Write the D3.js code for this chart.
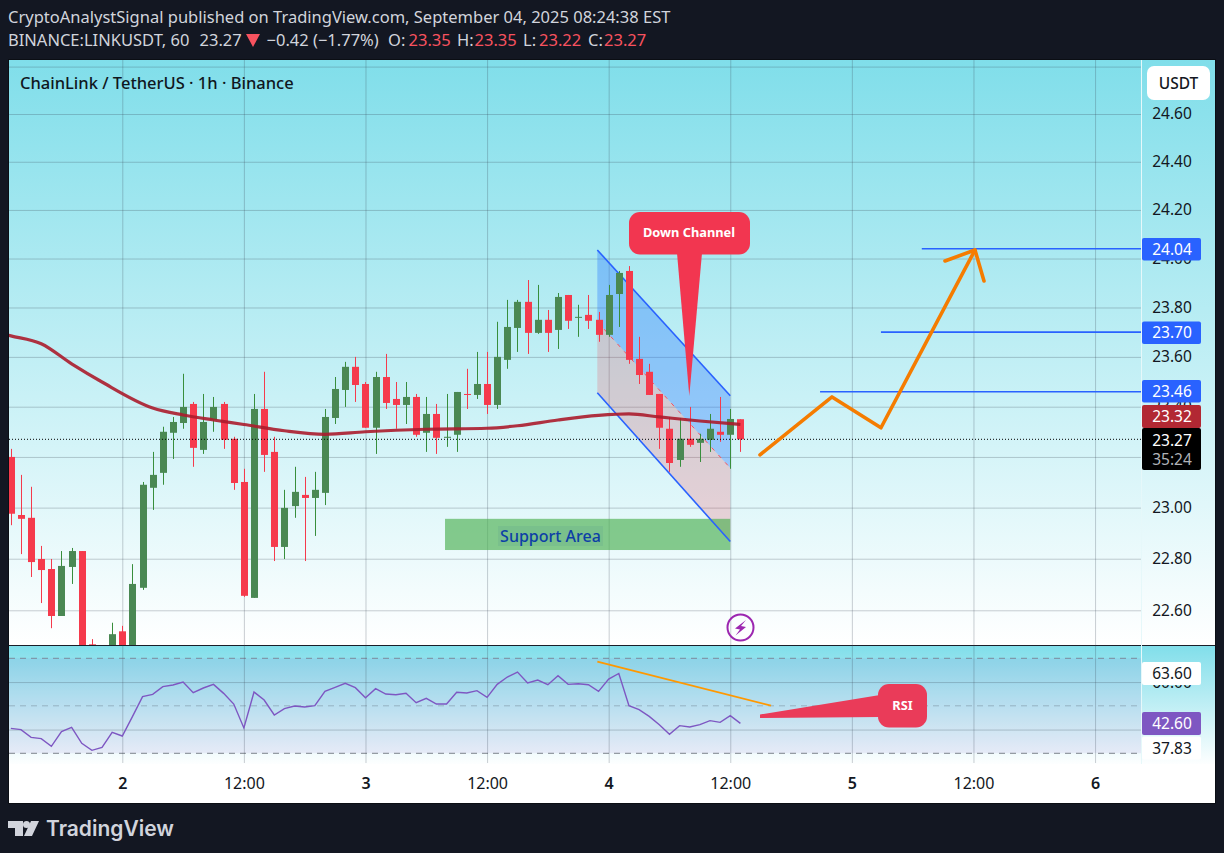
<!DOCTYPE html>
<html><head><meta charset="utf-8">
<script src="https://cdn.jsdelivr.net/npm/d3@7/dist/d3.min.js"></script>
<style>html,body{margin:0;padding:0;background:#131722;overflow:hidden}svg{display:block}text{font-family:"Noto Sans","Open Sans",sans-serif}</style>
</head><body><svg id="c" width="1224" height="853"></svg>
<script>
// ---- data ----
const opens=[23.200,22.971,22.960,22.799,22.760,22.578,22.768,22.830,22.469,22.38,22.43,22.519,22.44,22.687,23.078,23.137,23.296,23.335,23.411,23.228,23.347,23.411,23.272,23.101,22.648,23.391,23.220,22.846,23.006,23.050,23.038,23.058,23.355,23.467,23.560,23.491,23.316,23.519,23.431,23.407,23.439,23.296,23.371,23.276,23.288,23.451,23.447,23.491,23.407,23.588,23.717,23.823,23.697,23.750,23.709,23.851,23.758,23.770,23.750,23.689,23.855,23.949,23.592,23.540,23.451,23.312,23.188,23.272,23.256,23.268,23.300,23.288,23.35];
const highs=[23.232,23.129,23.082,22.850,22.799,22.830,22.842,22.830,22.489,22.44,22.552,22.540,22.779,23.101,23.220,23.320,23.359,23.532,23.419,23.451,23.439,23.419,23.280,23.153,23.451,23.540,23.280,23.070,23.161,23.121,23.141,23.391,23.519,23.580,23.600,23.499,23.540,23.612,23.499,23.499,23.451,23.439,23.411,23.451,23.459,23.552,23.620,23.620,23.742,23.831,23.831,23.912,23.892,23.790,23.859,23.851,23.811,23.851,23.782,23.892,23.949,23.969,23.681,23.572,23.451,23.359,23.355,23.399,23.292,23.371,23.439,23.391,23.35];
const lows=[22.931,22.818,22.729,22.628,22.531,22.578,22.702,22.44,22.446,22.30,22.40,22.40,22.40,22.679,22.991,23.090,23.192,23.312,23.161,23.212,23.300,23.232,23.070,22.652,22.648,23.141,22.791,22.799,22.960,22.791,22.889,23.010,23.331,23.399,23.419,23.316,23.212,23.391,23.312,23.331,23.280,23.220,23.212,23.240,23.220,23.391,23.431,23.371,23.391,23.552,23.620,23.612,23.693,23.620,23.632,23.713,23.681,23.713,23.661,23.681,23.721,23.572,23.491,23.447,23.232,23.141,23.161,23.240,23.180,23.220,23.260,23.153,23.22];
const closes=[22.976,22.956,22.787,22.756,22.578,22.772,22.830,22.462,22.454,22.43,22.508,22.43,22.702,23.090,23.129,23.300,23.339,23.399,23.236,23.339,23.399,23.268,23.097,22.656,23.391,23.208,22.846,22.999,23.062,23.038,23.070,23.359,23.471,23.560,23.487,23.316,23.519,23.415,23.407,23.439,23.288,23.371,23.276,23.280,23.459,23.447,23.491,23.407,23.600,23.721,23.823,23.697,23.750,23.697,23.843,23.746,23.762,23.746,23.689,23.851,23.941,23.588,23.527,23.447,23.316,23.176,23.272,23.248,23.272,23.312,23.288,23.351,23.27];
const maBars=[-1,0,3,6,9,14,17,20,23,27,31,35,41,47,50,54,58,61,64,68,72];
const maValues=[23.695,23.685,23.653,23.572,23.499,23.395,23.367,23.347,23.329,23.304,23.290,23.300,23.310,23.314,23.324,23.347,23.365,23.371,23.359,23.343,23.329];
const rsiValues=[40.5,39.95,36.7,36.16,32.93,39.1,40.93,34.19,31.24,32.51,38.82,37.28,45.42,53.84,54.82,58.05,58.75,60.02,55.52,57.49,59.03,55.24,50.75,40.65,55.8,52.44,46.12,48.79,49.91,49.49,50.05,56.09,57.77,59.45,57.63,53.42,57.21,54.96,54.68,55.24,51.31,53.14,50.75,50.75,55.67,55.38,56.37,53.56,59.03,62.12,64.23,59.59,60.86,58.89,62.68,59.03,59.31,58.89,56.09,61.28,63.6,50.05,48.37,45.56,42.05,37.98,41.63,41.07,42.05,43.74,43.03,45.84,42.6];
const priceTicks=[22.6,22.8,23.0,23.2,23.4,23.6,23.8,24.0,24.2,24.4,24.6,24.8];
const priceLabels=[22.6,22.8,23.0,23.2,23.4,23.6,23.8,24.0,24.2,24.4,24.6];
const timeTicks=[11,23,35,47,59,71,83,95,107];
const timeLabels=["2","12:00","3","12:00","4","12:00","5","12:00","6"];
const rsiLevels=[30,50,70];
const rsiGrid=[40,60];
const targets=[{bar:89.9,price:24.04},{bar:85.87,price:23.70},{bar:79.86,price:23.46}];
const forecastBars=[73.93,81.04,85.87,95.15];
const forecastPrices=[23.208,23.439,23.316,24.035];
const arrowBars=[92.19,95.15,96.04];
const arrowPrices=[23.990,24.035,23.908];
const channelBars=[57.88,71];
const channelTop=[24.035,23.444];
const channelMid=[23.742,23.156];
const channelBottom=[23.456,22.867];
const supportBars=[42.85,71];
const supportPrices=[22.956,22.834];
const rsiTrendBars=[57.88,75.02];
const rsiTrendValues=[68.57,50.04];

const svg=d3.select("#c");
const defs=svg.append("defs");
const L=9,R=1141,FR=1215,T=60,SEP=645,RB=764,B=803;
const x=d3.scaleLinear().domain([0,72]).range([10.83,10.83+72*10.133]);
const y=d3.scaleLog().domain([22.6,24.6]).range([610.3,114]);
const r=d3.scaleLinear().domain([30,70]).range([753.3,658.3]);

function grad(id,y1,y2){const g=defs.append("linearGradient").attr("id",id).attr("gradientUnits","userSpaceOnUse").attr("x1",0).attr("x2",0).attr("y1",y1).attr("y2",y2);
 g.append("stop").attr("offset",0).attr("stop-color","#80deea");g.append("stop").attr("offset",1).attr("stop-color","#ffffff");}
grad("gMain",T,SEP);grad("gRsi",SEP,RB+2);
defs.append("clipPath").attr("id","cMain").append("rect").attr("x",L).attr("y",T).attr("width",R-L).attr("height",SEP-T);
defs.append("clipPath").attr("id","cRsi").append("rect").attr("x",L).attr("y",SEP).attr("width",R-L).attr("height",RB-SEP);

svg.append("rect").attr("x",L).attr("y",T).attr("width",FR-L).attr("height",B-T).attr("fill","#fff");
svg.append("rect").attr("x",L).attr("y",T).attr("width",FR-L).attr("height",SEP-T).attr("fill","url(#gMain)");
svg.append("rect").attr("x",L).attr("y",SEP).attr("width",FR-L).attr("height",RB-SEP).attr("fill","url(#gRsi)");

const GRID="rgba(55,65,80,0.26)";
// grid
const gridM=svg.append("g").attr("clip-path","url(#cMain)");
gridM.append("g").attr("transform",`translate(${L},0)`).call(d3.axisRight(y).tickValues(priceTicks).tickSize(R-L).tickFormat(""))
 .call(g=>g.select(".domain").remove()).selectAll("line").attr("stroke",GRID);
gridM.append("g").attr("transform",`translate(0,${T})`).call(d3.axisBottom(x).tickValues(timeTicks).tickSize(SEP-T).tickFormat(""))
 .call(g=>g.select(".domain").remove()).selectAll("line").attr("stroke",GRID);

// channel (below the candles)
const area=(a,b)=>d3.area().x((d,i)=>x(channelBars[i])).y0((d,i)=>y(a[i])).y1((d,i)=>y(b[i]))(channelBars);
const lineOf=(xs,ys,fx,fy)=>d3.line().x((d,i)=>fx(xs[i])).y((d,i)=>fy(ys[i]))(xs);
const main=svg.append("g").attr("clip-path","url(#cMain)");
main.append("path").attr("d",area(channelTop,channelMid)).attr("fill","rgba(41,121,255,0.36)");
main.append("path").attr("d",area(channelMid,channelBottom)).attr("fill","rgba(242,54,69,0.20)");
main.append("path").attr("d",lineOf(channelBars,channelMid,x,y)).attr("fill","none").attr("stroke","#f7525f").attr("stroke-width",1).attr("stroke-dasharray","4 6");

// support area
main.append("rect").attr("x",x(supportBars[0])).attr("width",x(supportBars[1])-x(supportBars[0])).attr("y",y(supportPrices[0])).attr("height",y(supportPrices[1])-y(supportPrices[0])).attr("fill","rgba(76,175,80,0.65)");
main.append("rect").attr("x",498).attr("y",526).attr("width",105).attr("height",20).attr("fill","rgba(80,140,140,0.14)");
main.append("text").attr("x",550.5).attr("y",541.5).attr("text-anchor","middle").attr("font-size",16).attr("font-weight",500).attr("fill","#0d3fa6").text("Support Area");

// channel borders
[channelTop,channelBottom].forEach(p=>main.append("path").attr("d",lineOf(channelBars,p,x,y)).attr("fill","none").attr("stroke","#2962ff").attr("stroke-width",1.6));

// candles
const idx=d3.range(opens.length);
const UP="#4a8853",DN="#f53a4c",UPW="#388e3c";
main.append("g").selectAll("line").data(idx).join("line")
 .attr("x1",i=>Math.round(x(i))+.5).attr("x2",i=>Math.round(x(i))+.5).attr("y1",i=>y(highs[i])).attr("y2",i=>y(lows[i]))
 .attr("stroke",i=>closes[i]>=opens[i]?UPW:DN).attr("stroke-width",1);
main.append("g").selectAll("rect").data(idx).join("rect")
 .attr("x",i=>Math.round(x(i))-3).attr("width",7)
 .attr("y",i=>y(Math.max(opens[i],closes[i])))
 .attr("height",i=>Math.max(1,Math.abs(y(opens[i])-y(closes[i]))))
 .attr("fill",i=>closes[i]>=opens[i]?UP:DN);

// moving average
main.append("path").attr("d",d3.line().curve(d3.curveMonotoneX).x((d,i)=>x(maBars[i])).y((d,i)=>y(maValues[i]))(maBars))
 .attr("fill","none").attr("stroke","#ab1c2c").attr("stroke-opacity",.9).attr("stroke-width",3.2);

// last price dotted
main.append("line").attr("x1",L).attr("x2",R).attr("y1",y(closes[72])).attr("y2",y(closes[72])).attr("stroke","#000").attr("stroke-width",1).attr("stroke-dasharray","1 2");

// target lines
main.selectAll("line.t").data(targets).join("line").attr("class","t").attr("x1",d=>x(d.bar)).attr("x2",R).attr("y1",d=>y(d.price)).attr("y2",d=>y(d.price)).attr("stroke","#2962ff").attr("stroke-width",1.6);

// forecast arrow
const drawOrange=(xs,ys)=>main.append("path").attr("d",lineOf(xs,ys,x,y)).attr("fill","none").attr("stroke","#f57c00").attr("stroke-width",3.6).attr("stroke-linecap","round").attr("stroke-linejoin","round");
drawOrange(forecastBars,forecastPrices);drawOrange(arrowBars,arrowPrices);

// Down Channel callout
const RED="#f23650";
svg.append("path").attr("d",d3.line()([[677,253],[702,253],[689.3,396]])).attr("fill",RED);
svg.append("rect").attr("x",629).attr("y",212).attr("width",121).attr("height",42.5).attr("rx",11).attr("fill",RED);
svg.append("text").attr("x",689).attr("y",237).attr("text-anchor","middle").attr("font-size",12.8).attr("font-weight",700).attr("fill","#fff").text("Down Channel");

// bolt
svg.append("circle").attr("cx",740.5).attr("cy",627.5).attr("r",13).attr("fill","none").attr("stroke","#9c27b0").attr("stroke-width",2);
svg.append("path").attr("d","M746 620 L735 628.5 L740 629.5 L735.5 635.5 L746 627 L741 626 Z").attr("fill","#9c27b0");

// separator
svg.append("line").attr("x1",L).attr("x2",FR).attr("y1",SEP+.5).attr("y2",SEP+.5).attr("stroke","#1a1e28").attr("stroke-width",1.2);

// RSI pane
const rp=svg.append("g").attr("clip-path","url(#cRsi)");
rp.append("rect").attr("x",L).attr("width",R-L).attr("y",r(70)).attr("height",r(30)-r(70)).attr("fill","rgba(126,87,194,0.10)");
rp.append("g").attr("transform",`translate(${L},0)`).call(d3.axisRight(r).tickValues(rsiGrid).tickSize(R-L).tickFormat(""))
 .call(g=>g.select(".domain").remove()).selectAll("line").attr("stroke",GRID);
rp.append("g").attr("transform",`translate(0,${SEP})`).call(d3.axisBottom(x).tickValues(timeTicks).tickSize(RB-SEP-1).tickFormat(""))
 .call(g=>g.select(".domain").remove()).selectAll("line").attr("stroke",GRID);
const lvlOp={30:.62,50:.28,70:.5};
rp.selectAll("line.l").data(rsiLevels).join("line").attr("class","l").attr("x1",L).attr("x2",R).attr("y1",d=>r(d)).attr("y2",d=>r(d))
 .attr("stroke",d=>d==70?"#6b3d4d":"#3a3f4a").attr("stroke-opacity",d=>lvlOp[d]).attr("stroke-width",1).attr("stroke-dasharray","6 5");
rp.append("path").attr("d",d3.line().x((d,i)=>x(i)).y(d=>r(d))(rsiValues)).attr("fill","none").attr("stroke","#7e57c2").attr("stroke-width",1.4);
rp.append("path").attr("d",lineOf(rsiTrendBars,rsiTrendValues,x,r)).attr("fill","none").attr("stroke","#ff9800").attr("stroke-width",1.8);

// RSI callout
svg.append("path").attr("d",d3.line()([[760,714.5],[880,695],[880,717],[760,718]])).attr("fill","#ea3b59");
svg.append("rect").attr("x",878).attr("y",684).attr("width",49).attr("height",43.5).attr("rx",11).attr("fill","#ea3b59");
svg.append("text").attr("x",902.5).attr("y",710).attr("text-anchor","middle").attr("font-size",12.8).attr("font-weight",700).attr("fill","#fff").text("RSI");

// axis separator
svg.append("line").attr("x1",R+.5).attr("x2",R+.5).attr("y1",T).attr("y2",RB).attr("stroke","#e6f8fa").attr("stroke-width",1);

// price axis labels
const TXT="#131722";
const AX=15.5;
const pa=svg.append("g").attr("transform",`translate(1172,0)`).call(d3.axisRight(y).tickValues(priceLabels).tickSize(0).tickPadding(0).tickFormat(d3.format(".2f")));
pa.select(".domain").remove();
pa.selectAll("text").attr("text-anchor","middle").attr("x",0).attr("font-size",AX).attr("fill",TXT).style("font-family",'"Noto Sans"');
const ra=svg.append("g").attr("transform",`translate(1172,0)`).call(d3.axisRight(r).tickValues(rsiGrid).tickSize(0).tickPadding(0).tickFormat(d3.format(".2f")));
ra.select(".domain").remove();
ra.selectAll("text").attr("text-anchor","middle").attr("x",0).attr("font-size",AX).attr("fill",TXT).style("font-family",'"Noto Sans"');

function tag(cy,h,fill,txt,col){svg.append("rect").attr("x",1142).attr("width",59).attr("y",cy-h/2).attr("height",h).attr("rx",2).attr("fill",fill);
 svg.append("text").attr("x",1172).attr("y",cy+5.5).attr("text-anchor","middle").attr("font-size",AX).attr("fill",col).text(txt);}
targets.forEach(d=>{tag(y(d.price)+(d.price==23.46?-.5:.5),22.5,"#2962ff",d.price.toFixed(2),"#fff");});
tag(416.5,23,"#b22833","23.32","#fff");
svg.append("rect").attr("x",1142).attr("width",59).attr("y",428).attr("height",42).attr("rx",2).attr("fill","#000");
svg.append("text").attr("x",1172).attr("y",445.5).attr("text-anchor","middle").attr("font-size",AX).attr("fill","#fff").text(closes[72].toFixed(2));
svg.append("text").attr("x",1172).attr("y",465).attr("text-anchor","middle").attr("font-size",AX).attr("fill","#b0b3b8").text("35:24");
tag(r(63.6),23,"#fff","63.60",TXT);
tag(r(42.6),23,"#7e57c2","42.60","#fff");
tag(748,23,"#fff","37.83",TXT);

// USDT button
svg.append("rect").attr("x",1147).attr("y",66).attr("width",63).attr("height",34).attr("rx",7).attr("fill","#fff");
svg.append("text").attr("x",1178.5).attr("y",88.5).attr("text-anchor","middle").attr("font-size",15.5).attr("font-weight",500).attr("fill",TXT).text("USDT");

// time axis
const ta=svg.append("g").attr("transform",`translate(0,790)`).call(d3.axisBottom(x).tickValues(timeTicks).tickSize(0).tickPadding(0).tickFormat((d,i)=>timeLabels[i]));
ta.select(".domain").remove();
ta.selectAll("text").attr("y",-1).attr("dy",0).attr("font-size",16).attr("fill",TXT).style("font-family",'"Noto Sans"');
ta.selectAll("text").filter((d,i)=>timeLabels[i].length==1).attr("font-weight",600);

// title
svg.append("text").attr("x",20).attr("y",89).attr("font-size",16.5).attr("font-weight",500).attr("fill","#0f1620").text("ChainLink / TetherUS · 1h · Binance");

// header
const HD="#d1d4dc",HR="#f7525f",HS=16.5;
svg.append("text").attr("x",8).attr("y",22.5).attr("font-size",HS).attr("fill",HD).text("CryptoAnalystSignal published on TradingView.com, September 04, 2025 08:24:38 EST");
[[8,"BINANCE:LINKUSDT, 60",HD],[199.5,"23.27",HD],[266.5,"−0.42 (−1.77%)",HD],[388,"O:",HD],[408.5,"23.35",HR],[457,"H:",HD],[474.5,"23.35",HR],[523,"L:",HD],[539,"23.22",HR],[588,"C:",HD],[604,"23.27",HR]]
 .forEach(([a,t,c])=>svg.append("text").attr("x",a).attr("y",45.5).attr("font-size",HS).attr("fill",c).text(t));
svg.append("path").attr("d","M246 34 L260 34 L253 47 Z").attr("fill","#f7525f");

// frame
svg.append("rect").attr("x",L-.5).attr("y",T-.5).attr("width",FR-L+1).attr("height",B-T+1).attr("fill","none").attr("stroke","#0b0e14").attr("stroke-width",1);

// logo
svg.append("path").attr("d","M8 821 H23 V836 H15 V828 H8 Z").attr("fill","#d1d4dc");
svg.append("circle").attr("cx",26.5).attr("cy",824.5).attr("r",3.5).attr("fill","#d1d4dc");
svg.append("path").attr("d","M31 821 H39 L32 836 H24 Z").attr("fill","#d1d4dc");
svg.append("text").attr("x",46).attr("y",836).attr("font-size",21).attr("font-weight",600).style("font-family","Inter").attr("fill","#d1d4dc").text("TradingView");
</script></body></html>
